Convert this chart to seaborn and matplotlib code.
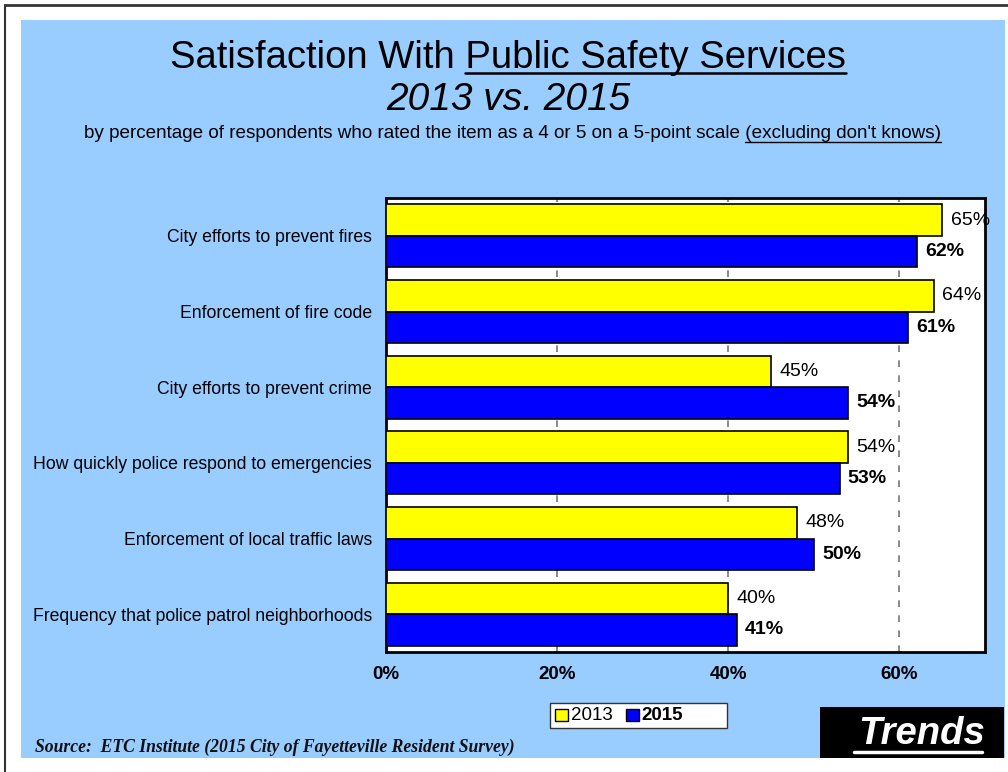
import matplotlib
matplotlib.use("Agg")
import matplotlib.pyplot as plt
import seaborn as sns
import pandas as pd
from matplotlib.patches import Rectangle
from matplotlib.lines import Line2D

categories = [
    "City efforts to prevent fires",
    "Enforcement of fire code",
    "City efforts to prevent crime",
    "How quickly police respond to emergencies",
    "Enforcement of local traffic laws",
    "Frequency that police patrol neighborhoods",
]
values_2013 = [65, 64, 45, 54, 48, 40]
values_2015 = [62, 61, 54, 53, 50, 41]
years = ["2013", "2015"]
x_ticks = [0, 20, 40, 60]
x_tick_labels = ["0%", "20%", "40%", "60%"]

df = pd.DataFrame({
    "category": categories * 2,
    "year": ["2013"] * len(categories) + ["2015"] * len(categories),
    "value": values_2013 + values_2015,
})

sns.set_theme(style="white")
plt.rcParams["font.family"] = ["Liberation Sans", "DejaVu Sans"]
plt.rcParams["text.color"] = "black"
plt.rcParams["xtick.color"] = "black"
plt.rcParams["ytick.color"] = "black"

W, H = 1008, 772
fig = plt.figure(figsize=(W / 100, H / 100), dpi=100)
fig.patch.set_facecolor("white")

def fx(px):
    return px / W

def fy(py):
    return 1 - py / H

# background panel and frame
fig.patches.append(Rectangle((fx(21), fy(758)), fx(1005) - fx(21), fy(20) - fy(758),
                             transform=fig.transFigure, facecolor="#99CCFF",
                             edgecolor="none", zorder=-5))
fig.add_artist(Line2D([fx(5), fx(1008)], [fy(4.5), fy(4.5)], color="#333333", lw=2))
fig.add_artist(Line2D([fx(5), fx(5)], [fy(4.5), fy(772)], color="#333333", lw=1.5))

ax = fig.add_axes([fx(386), fy(652), fx(985) - fx(386), fy(198) - fy(652)])
ax.set_zorder(2)
ax.set_facecolor("white")

palette = {"2013": "#FFFF00", "2015": "#0000FF"}
sns.barplot(data=df, y="category", x="value", hue="year", order=categories,
            hue_order=years, palette=palette, orient="h", width=0.83,
            edgecolor="black", linewidth=1.2, saturation=1, ax=ax, legend=False, zorder=3)

ax.set_xlim(0, 70)
ax.set_ylim(len(categories) - 0.5, -0.5)
ax.set_xticks(x_ticks)
ax.set_xticklabels(x_tick_labels, fontsize=13.5, fontweight="bold", color="black")
ax.tick_params(axis="x", length=0, pad=10, colors="black")
ax.tick_params(axis="y", length=0, pad=10, labelsize=12.7, colors="black")
ax.set_xlabel("")
ax.set_ylabel("")
for gx in x_ticks[1:]:
    ax.axvline(gx, color="#777777", lw=1.2, ls=(0, (4, 5)), zorder=1)
for s in ax.spines.values():
    s.set_color("black")
    s.set_linewidth(2)

# value labels
for cont, yr in zip(ax.containers, years):
    labels = [f"{v:.0f}%" for v in cont.datavalues]
    ax.bar_label(cont, labels=labels, padding=6, fontsize=14,
                 fontweight=("bold" if yr == "2015" else "normal"), color="black")

# titles
renderer = fig.canvas.get_renderer()

def underline_tail(text_obj, tail, y_off_px, lw, color="black", **kw):
    bb = text_obj.get_window_extent(renderer)
    t = fig.text(0, 0, tail, **kw)
    tb = t.get_window_extent(renderer)
    t.remove()
    x1 = bb.x1
    x0 = x1 - tb.width
    y = bb.y0 + y_off_px
    fig.add_artist(Line2D([x0 / W, x1 / W], [y / H, y / H], color=color, lw=lw))

t1 = fig.text(0.504, fy(58), "Satisfaction With Public Safety Services",
              ha="center", va="center", fontsize=27.5, color="black")
underline_tail(t1, "Public Safety Services", 3, 1.8, fontsize=27.5)

fig.text(0.504, fy(100), "2013 vs. 2015", ha="center", va="center",
         fontsize=28, style="italic", color="black")

t3 = fig.text(0.508, fy(133),
              "by percentage of respondents who rated the item as a 4 or 5 on a 5-point scale (excluding don't knows)",
              ha="center", va="center", fontsize=13.6, color="black")
underline_tail(t3, "(excluding don't knows)", 0, 1.0, fontsize=13.6)

# legend
lx0, ly0, lx1, ly1 = 550, 703, 727, 728
fig.patches.append(Rectangle((fx(lx0), fy(ly1)), fx(lx1) - fx(lx0), fy(ly0) - fy(ly1),
                             transform=fig.transFigure, facecolor="white",
                             edgecolor="#333333", lw=1, zorder=5))
fig.patches.append(Rectangle((fx(555), fy(721)), fx(13), fy(709) - fy(721),
                             transform=fig.transFigure, facecolor=palette["2013"],
                             edgecolor="black", lw=1, zorder=6))
fig.text(fx(571), fy(715.5), "2013", ha="left", va="center", fontsize=13.5, zorder=6)
fig.patches.append(Rectangle((fx(626), fy(721)), fx(13), fy(709) - fy(721),
                             transform=fig.transFigure, facecolor=palette["2015"],
                             edgecolor="black", lw=1, zorder=6))
fig.text(fx(641), fy(715.5), "2015", ha="left", va="center", fontsize=13.5,
         fontweight="bold", zorder=6)

# Trends box
fig.patches.append(Rectangle((fx(820), fy(758)), fx(1004) - fx(820), fy(707) - fy(758),
                             transform=fig.transFigure, facecolor="black",
                             edgecolor="none", zorder=5))
fig.text(fx(922), fy(734), "Trends", ha="center", va="center", fontsize=27.5,
         fontweight="bold", style="italic", color="white", zorder=6)
fig.add_artist(Line2D([fx(854), fx(982)], [fy(752), fy(752)], color="white", lw=2.5, zorder=6))

# source
fig.text(fx(35), fy(747), "Source:  ETC Institute (2015 City of Fayetteville Resident Survey)",
         ha="left", va="center", fontsize=12.7, fontweight="bold", style="italic",
         family=["Liberation Serif", "DejaVu Serif"], color="#111111")

fig.savefig("out.png", dpi=100, facecolor=fig.get_facecolor())
